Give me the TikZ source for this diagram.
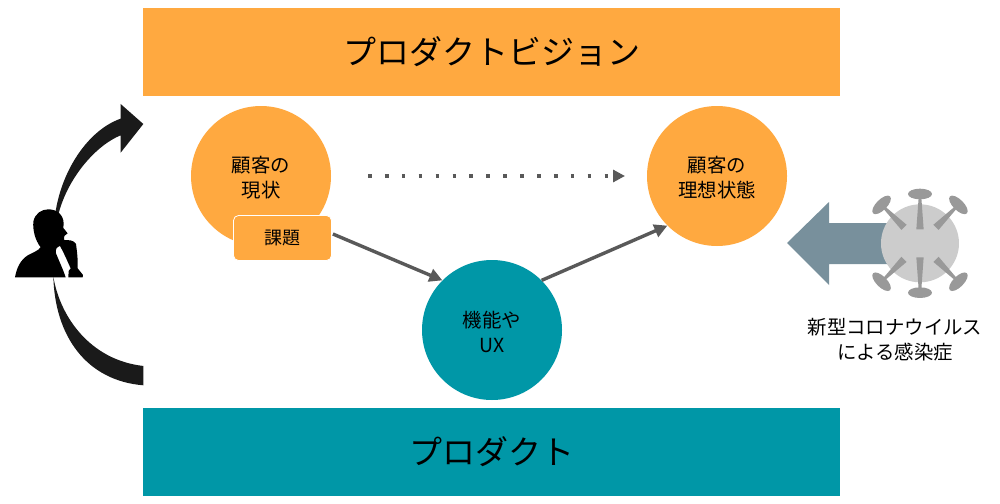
\documentclass[tikz,border=0pt]{standalone}
\usepackage{fontspec}
\setmainfont{Noto Sans CJK JP}
\usetikzlibrary{arrows.meta}
\definecolor{orangeF}{HTML}{FFA940}
\definecolor{tealF}{HTML}{0097A7}
\definecolor{arrowG}{HTML}{595959}
\definecolor{slateF}{HTML}{78909C}
\definecolor{virusBody}{HTML}{CCCCCC}
\definecolor{virusSpike}{HTML}{999999}
\definecolor{curveK}{HTML}{1A1A1A}
\newcommand{\liftline}{\rule{0pt}{20pt}}
\tikzset{
  band/.style={minimum width=697pt,minimum height=88pt,inner sep=0pt,font=\fontsize{33}{36}\selectfont,text=black},
  blob/.style={circle,minimum size=140pt,inner sep=0pt,align=center,font=\fontsize{19.4}{25}\selectfont,text=black},
  tag/.style={draw=white,line width=0.8pt,fill=orangeF,rounded corners=5pt,minimum width=98pt,minimum height=45pt,inner sep=0pt,font=\fontsize{18}{22}\selectfont,text=black},
  flow/.style={draw=arrowG,line width=3.4pt,-{Triangle[length=13pt,width=13pt]}},
  dotflow/.style={draw=arrowG,line width=3.6pt,dash pattern=on 3.6pt off 13.3pt,-{Triangle[length=12pt,width=12pt]}},
  caption/.style={align=center,font=\fontsize{19.4}{25}\selectfont,text=black},
}
\begin{document}
\begin{tikzpicture}[x=1pt,y=-1pt]
\useasboundingbox (0,0) rectangle (1000,503);
\fill[white] (0,0) rectangle (1000,503);

% bands
\node[band,fill=orangeF] (vision) at (491.5,52) {プロダクトビジョン};
\node[band,fill=tealF] (product) at (491.5,452) {プロダクト};

% circles
\node[blob,fill=orangeF] (now) at (261,176) {\liftline 顧客の\\現状};
\node[blob,fill=orangeF] (ideal) at (717,176) {\liftline 顧客の\\理想状態};
\node[blob,fill=tealF] (ux) at (492,330) {\liftline 機能や\\UX};
\node[tag] (issue) at (282.5,238) {課題};

% connectors
\coordinate (dotA) at (368,176);
\coordinate (dotB) at (625,176);
\draw[dotflow] (dotA) -- (dotB);
\draw[flow] (issue.east) ++(1,-4) coordinate (issueOut) (issueOut) -- (ux.135);
\draw[flow] (ux.45) -- (ideal.225);

% curved arrows
\begin{scope}[shift={(0,90)},x=0.3333pt,y=-0.3333pt]
\fill[curveK] (166,370) .. controls (185,240) and (265,120) .. (362,86) -- (362,42) -- (430,102) -- (362,188) -- (362,136) .. controls (290,165) and (205,260) .. (176,370) -- cycle;
\fill[curveK] (160,560) .. controls (180,680) and (270,810) .. (430,828) -- (430,886) .. controls (260,872) and (165,740) .. (160,560) -- cycle;
% person
\fill[black] (45,562) .. controls (50,535) and (60,510) .. (85,495)
 .. controls (100,487) and (115,482) .. (122,472)
 .. controls (105,450) and (98,420) .. (100,395)
 .. controls (105,370) and (125,358) .. (145,358)
 .. controls (172,358) and (190,375) .. (191,400)
 -- (190,414) -- (203,430) -- (193,438) -- (192,450)
 .. controls (205,450) and (222,450) .. (228,462)
 .. controls (232,490) and (234,515) .. (233,535)
 -- (249,555) -- (248,562) -- (205,562) -- (206,543) -- (212,535)
 .. controls (205,520) and (195,495) .. (180,468)
 .. controls (170,470) and (165,480) .. (168,490)
 .. controls (178,515) and (190,540) .. (197,562) -- cycle;
\end{scope}

% virus arrow
\fill[slateF] (787,243) -- (829,202) -- (829,223) -- (890,223) -- (890,264) -- (829,264) -- (829,285) -- cycle;
\begin{scope}[shift={(780,170)},x=0.3333pt,y=-0.3333pt]
\fill[virusBody] (420,220) circle[radius=117];
\foreach \a/\r/\h in {0/42/148,180/42/148,45/68/163,135/68/163,225/68/163,315/68/163}{
  \begin{scope}[shift={(420,220)},rotate=\a]
   \fill[virusSpike] (-11,\r) -- (11,\r) -- (4,\h-10) -- (-4,\h-10) -- cycle;
   \fill[virusSpike] (0,\h) ellipse[x radius=36,y radius=16];
  \end{scope}
}
\end{scope}
\node[caption] (covid) at (895,340) {新型コロナウイルス\\による感染症};
\end{tikzpicture}
\end{document}
